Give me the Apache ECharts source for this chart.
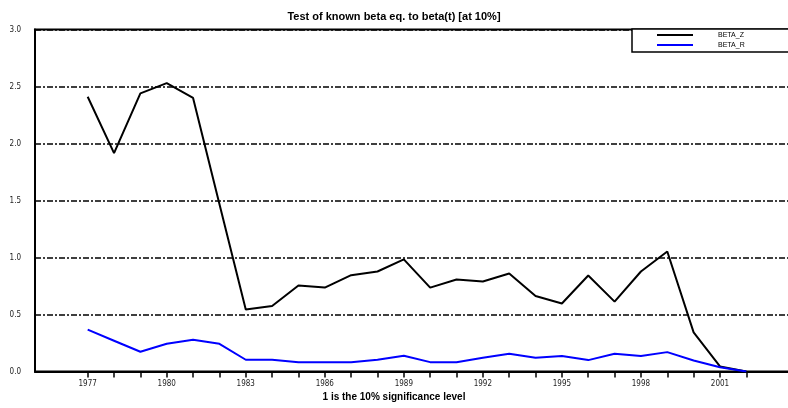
<!DOCTYPE html>
<html>
<head>
<meta charset="utf-8">
<script src="https://cdn.jsdelivr.net/npm/echarts@6/dist/echarts.min.js"></script>
<style>html,body{margin:0;padding:0;background:#fff;}#c{width:788px;height:408px;}</style>
</head>
<body>
<div id="c"></div>
<script>
var axisYears = ['1975','1976','1977','1978','1979','1980','1981','1982','1983','1984','1985','1986','1987','1988','1989','1990','1991','1992','1993','1994','1995','1996','1997','1998','1999','2000','2001','2002','2003','2004'];
var years = ['1977','1978','1979','1980','1981','1982','1983','1984','1985','1986','1987','1988','1989','1990','1991','1992','1993','1994','1995','1996','1997','1998','1999','2000','2001','2002'];
var labelYears = ['1977','1980','1983','1986','1989','1992','1995','1998','2001'];
var betaZ = [2.41,1.915,2.44,2.53,2.40,1.47,0.543,0.575,0.754,0.736,0.845,0.877,0.983,0.736,0.807,0.789,0.86,0.663,0.596,0.842,0.613,0.877,1.053,0.343,0.044,0.0];
var betaR = [0.367,0.27,0.173,0.243,0.279,0.243,0.103,0.103,0.082,0.082,0.082,0.103,0.138,0.082,0.082,0.12,0.156,0.12,0.135,0.10,0.156,0.135,0.17,0.097,0.038,0.0];
var yTicks = [0,0.5,1,1.5,2,2.5,3];

function pairs(vals){ return years.map(function(y,i){ return [y, vals[i]]; }); }

var chart = echarts.init(document.getElementById('c'), null, {renderer:'canvas'});
chart.setOption({
  animation: false,
  backgroundColor: '#fff',
  title: [
    {text: 'Test of known beta eq. to beta(t) [at 10%]', left: 'center', top: 11, padding: 0,
     textStyle: {fontFamily: 'Liberation Sans, Arial, sans-serif', fontSize: 11, fontWeight: 'bold', color: '#000'}},
    {text: '1 is the 10% significance level', left: 'center', top: 392, padding: 0,
     textStyle: {fontFamily: 'Liberation Sans, Arial, sans-serif', fontSize: 10, fontWeight: 'bold', color: '#000'}}
  ],
  grid: {left: 35, top: 29.5, bottom: 36.5, right: -11, show: true, borderColor: '#000', borderWidth: 2, backgroundColor: 'transparent', outerBoundsMode: 'none', containLabel: false},
  legend: {
    orient: 'vertical', left: 632, top: 29,
    padding: [2, 70, 3, 25],
    itemGap: 2, itemWidth: 36, itemHeight: 2,
    backgroundColor: '#fff', borderColor: '#000', borderWidth: 1.5,
    icon: 'rect',
    textStyle: {fontFamily: 'Liberation Sans, Arial, sans-serif', fontSize: 7, color: '#000', padding: [0,0,0,20], lineHeight: 8},
    data: ['BETA_Z', 'BETA_R']
  },
  xAxis: {
    type: 'category', data: axisYears, boundaryGap: false,
    axisLine: {lineStyle: {color: '#000', width: 2}},
    axisTick: {show: true, length: 6, lineStyle: {color: '#000', width: 1.5},
      interval: function(idx, val){ return years.indexOf(val) >= 0; }},
    axisLabel: {margin: 8, color: '#222', fontSize: 8, fontFamily: 'Liberation Sans Narrow, DejaVu Sans Condensed, sans-serif',
      interval: function(idx, val){ return labelYears.indexOf(val) >= 0; }},
    splitLine: {show: false}
  },
  yAxis: {
    type: 'value', min: 0, max: 3, interval: 0.5,
    axisLine: {show: true, lineStyle: {color: '#000', width: 2}},
    axisTick: {show: false},
    axisLabel: {margin: 14, color: '#222', fontSize: 8, fontFamily: 'Liberation Sans Narrow, DejaVu Sans Condensed, sans-serif',
      formatter: function(v){ return yTicks.indexOf(v) >= 0 ? v.toFixed(1) : ''; }},
    splitLine: {show: true, lineStyle: {color: '#000', width: 1.5, type: [6,2,2,2]}}
  },
  series: [
    {name: 'BETA_Z', type: 'line', data: pairs(betaZ), showSymbol: false, symbol: 'none',
     lineStyle: {color: '#000', width: 2}, itemStyle: {color: '#000'}},
    {name: 'BETA_R', type: 'line', data: pairs(betaR), showSymbol: false, symbol: 'none',
     lineStyle: {color: '#0000ff', width: 2}, itemStyle: {color: '#0000ff'}}
  ]
});
</script>
</body>
</html>
